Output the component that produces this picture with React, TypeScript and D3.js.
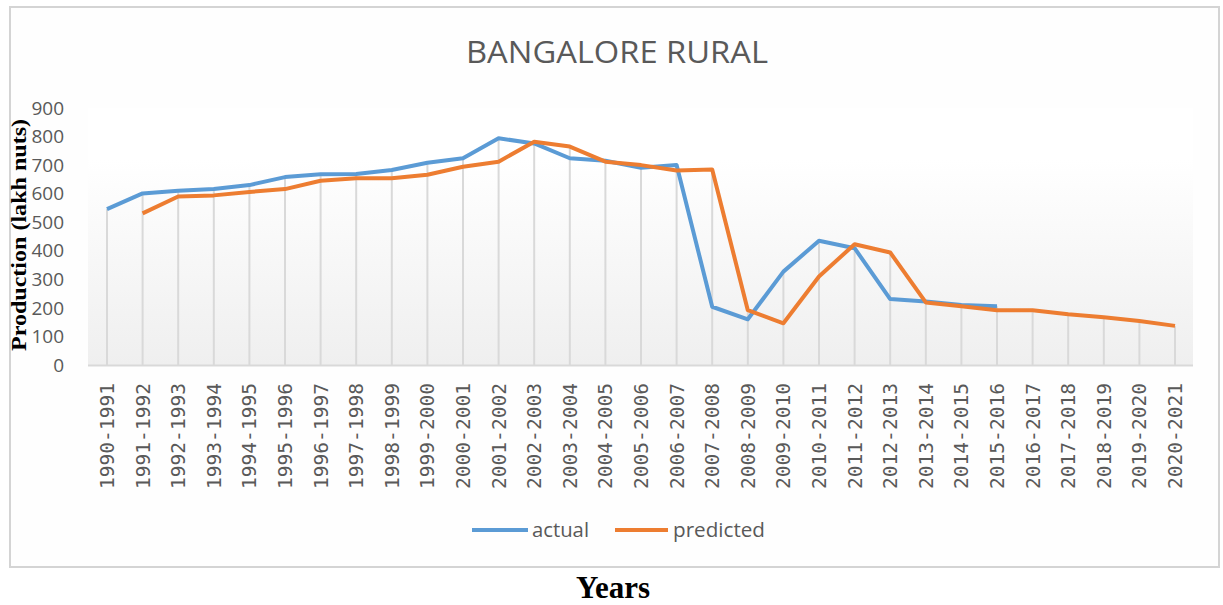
import React from 'react';
import * as d3 from 'd3';

// Years on the category axis
const years = [
  '1990-1991', '1991-1992', '1992-1993', '1993-1994', '1994-1995', '1995-1996',
  '1996-1997', '1997-1998', '1998-1999', '1999-2000', '2000-2001', '2001-2002',
  '2002-2003', '2003-2004', '2004-2005', '2005-2006', '2006-2007', '2007-2008',
  '2008-2009', '2009-2010', '2010-2011', '2011-2012', '2012-2013', '2013-2014',
  '2014-2015', '2015-2016', '2016-2017', '2017-2018', '2018-2019', '2019-2020',
  '2020-2021',
];

// production in lakh nuts
const actual: (number | null)[] = [
  546, 601, 610, 616, 630, 658, 668, 669, 683, 708, 724, 794, 776, 724, 715, 691,
  700, 204, 160, 327, 435, 409, 231, 222, 210, 206, null, null, null, null, null,
];
const predicted: (number | null)[] = [
  null, 531, 590, 594, 606, 616, 645, 654, 654, 666, 694, 712, 782, 765, 712, 700,
  681, 685, 192, 146, 310, 423, 394, 219, 206, 192, 192, 178, 167, 154, 137,
];

const yTicks = [0, 100, 200, 300, 400, 500, 600, 700, 800, 900];

const BLUE = '#5b9bd5';
const ORANGE = '#ed7d31';
const GREY_TEXT = '#595959';

export default function App() {
  const width = 1223;
  const height = 605;

  const x = d3.scalePoint<string>().domain(years).range([107, 1175]);
  const y = d3.scaleLinear().domain([0, 900]).range([365, 108]);

  const line = d3
    .line<number | null>()
    .defined((d) => d !== null)
    .x((_, i) => x(years[i]) as number)
    .y((d) => y(d as number));

  const plotLeft = 88;
  const plotRight = 1193;

  return (
    <svg
      width={width}
      height={height}
      style={{ position: 'absolute', left: 0, top: 0 }}
    >
      <defs>
        <linearGradient id="plotBg" x1="0" y1="0" x2="0" y2="1">
          <stop offset="0" stopColor="#ffffff" />
          <stop offset="0.2" stopColor="#ffffff" />
          <stop offset="1" stopColor="#efefef" />
        </linearGradient>
      </defs>
      <rect x={0} y={0} width={width} height={height} fill="#ffffff" />
      {/* chart frame */}
      <rect x={10} y={7} width={1209} height={560} fill="#fefefe" stroke="#d4d4d4" strokeWidth={2} />

      {/* plot area */}
      <rect x={plotLeft} y={108} width={plotRight - plotLeft} height={257} fill="url(#plotBg)" />

      <text
        x={617}
        y={63}
        textAnchor="middle"
        fontFamily="'Open Sans', sans-serif"
        fontSize={31}
        fill={GREY_TEXT}
        textLength={302}
        lengthAdjust="spacingAndGlyphs"
      >
        BANGALORE RURAL
      </text>

      {/* drop lines */}
      {years.map((yr, i) => {
        const vals = [actual[i], predicted[i]].filter((v) => v !== null) as number[];
        if (!vals.length) return null;
        return (
          <line
            key={yr}
            x1={x(yr)}
            x2={x(yr)}
            y1={y(d3.max(vals) as number)}
            y2={y(0)}
            stroke="#d9d9d9"
            strokeWidth={2}
          />
        );
      })}

      {/* category axis */}
      <line x1={plotLeft} x2={plotRight} y1={y(0) + 0.5} y2={y(0) + 0.5} stroke="#d9d9d9" strokeWidth={2} />

      {yTicks.map((t) => (
        <text
          key={t}
          x={64}
          y={y(t)}
          dy="0.35em"
          textAnchor="end"
          fontFamily="'Open Sans', sans-serif"
          fontSize={19}
          fill={GREY_TEXT}
        >
          {t}
        </text>
      ))}

      {years.map((yr) => (
        <text
          key={yr}
          transform={`translate(${(x(yr) as number) + 7},383) rotate(-90)`}
          textAnchor="end"
          fontFamily="'DejaVu Sans Mono', monospace"
          fontSize={19}
          fill={GREY_TEXT}
          textLength={106}
          lengthAdjust="spacingAndGlyphs"
        >
          {yr}
        </text>
      ))}

      <path d={line(actual) ?? ''} fill="none" stroke={BLUE} strokeWidth={4} strokeLinejoin="round" />
      <path d={line(predicted) ?? ''} fill="none" stroke={ORANGE} strokeWidth={4} strokeLinejoin="round" />

      {/* legend */}
      <line x1={472} x2={528} y1={530} y2={530} stroke={BLUE} strokeWidth={4} />
      <text x={532} y={537} fontFamily="'Open Sans', sans-serif" fontSize={20} fill={GREY_TEXT} textLength={57} lengthAdjust="spacingAndGlyphs">
        actual
      </text>
      <line x1={615} x2={668} y1={530} y2={530} stroke={ORANGE} strokeWidth={4} />
      <text x={673} y={537} fontFamily="'Open Sans', sans-serif" fontSize={20} fill={GREY_TEXT} textLength={92} lengthAdjust="spacingAndGlyphs">
        predicted
      </text>

      {/* axis titles */}
      <text
        transform="translate(26,235) rotate(-90)"
        textAnchor="middle"
        fontFamily="'Liberation Serif', 'Times New Roman', serif"
        fontWeight="bold"
        fontSize={22}
        fill="#000000"
        textLength={232}
        lengthAdjust="spacingAndGlyphs"
      >
        Production (lakh nuts)
      </text>
      <text
        x={613}
        y={598}
        textAnchor="middle"
        fontFamily="'Liberation Serif', 'Times New Roman', serif"
        fontWeight="bold"
        fontSize={31}
        fill="#000000"
      >
        Years
      </text>
    </svg>
  );
}
